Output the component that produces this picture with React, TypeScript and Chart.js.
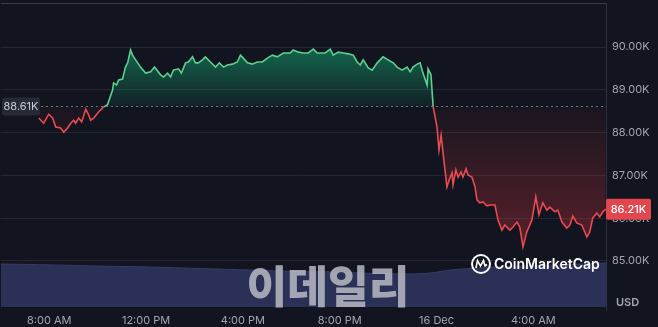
import React, { useEffect, useRef } from "react";
import { Chart, registerables } from "chart.js";

Chart.register(...registerables);

// Price series (hours since midnight of 15 Dec; 24+ = 16 Dec)
const priceHours = [
  7.57, 7.77, 7.98, 8.14, 8.27, 8.47, 8.6, 8.76, 8.89, 9.01, 9.09, 9.22, 9.34, 9.51, 9.63, 9.71, 9.84, 10.04, 10.25, 10.41,
  10.45, 10.62, 10.66, 10.78, 10.87, 11.03, 11.15, 11.24, 11.36, 11.44, 11.57, 11.77, 11.98, 12.19, 12.35, 12.6, 12.72, 12.89, 13.01, 13.13,
  13.34, 13.46, 13.63, 13.75, 13.92, 14.04, 14.16, 14.33, 14.45, 14.66, 14.87, 15.03, 15.2, 15.36, 15.57, 15.77, 15.9, 16.02, 16.19, 16.39,
  16.6, 16.8, 17.01, 17.22, 17.42, 17.67, 17.96, 18.08, 18.29, 18.49, 18.7, 18.91, 19.07, 19.2, 19.4, 19.61, 19.73, 19.94, 20.14, 20.35,
  20.56, 20.72, 20.85, 20.97, 21.18, 21.34, 21.55, 21.79, 22.0, 22.21, 22.37, 22.58, 22.78, 22.91, 23.03, 23.2, 23.32, 23.44, 23.61, 23.65,
  23.77, 23.86, 24.02, 24.1, 24.19, 24.27, 24.43, 24.52, 24.64, 24.68, 24.8, 24.89, 25.01, 25.09, 25.22, 25.3, 25.46, 25.59, 25.67, 25.79,
  25.92, 26.08, 26.21, 26.41, 26.54, 26.7, 26.82, 27.03, 27.15, 27.32, 27.44, 27.57, 27.73, 27.94, 28.1, 28.23, 28.39, 28.56, 28.68, 28.89,
  29.01, 29.18, 29.38, 29.51, 29.63, 29.79, 30.0, 30.21, 30.33, 30.45, 30.62, 30.74, 30.87, 30.99,
];
const priceValues = [
  88340, 88220, 88430, 88340, 88130, 88110, 88010, 88110, 88220, 88290, 88220, 88340, 88250, 88550, 88410, 88290, 88340, 88480, 88600, 88650,
  88720, 89000, 89160, 89110, 89230, 89250, 89530, 89630, 89930, 89810, 89700, 89530, 89390, 89420, 89530, 89350, 89300, 89390, 89300, 89460,
  89490, 89390, 89630, 89650, 89770, 89630, 89630, 89700, 89770, 89650, 89530, 89630, 89530, 89580, 89600, 89650, 89810, 89740, 89630, 89600,
  89650, 89650, 89740, 89810, 89770, 89860, 89860, 89930, 89880, 89860, 89860, 89950, 89860, 89860, 89860, 89950, 89810, 89880, 89860, 89840,
  89810, 89650, 89580, 89700, 89510, 89460, 89630, 89770, 89700, 89630, 89530, 89460, 89530, 89420, 89530, 89600, 89630, 89390, 89110, 89490,
  89350, 88600, 88130, 87590, 87940, 87520, 86730, 86890, 87060, 86780, 87130, 86960, 87080, 86960, 87150, 87010, 86960, 86730, 86430, 86360,
  86380, 86290, 86310, 86310, 85960, 85720, 85840, 85720, 85790, 85910, 85790, 85330, 85680, 85960, 86500, 86080, 86360, 86190, 86260, 86150,
  86190, 85910, 85770, 85840, 86050, 85890, 85840, 85560, 85680, 86000, 86120, 86030, 86150, 86210,
];

// Volume (relative units)
const volumeHours = [6.0, 8.06, 10.12, 12.19, 14.25, 16.31, 18.37, 19.61, 21.26, 22.91, 23.73, 24.56, 25.79, 27.44, 29.09, 31.0];
const volumeValues = [14.2, 13.9, 13.5, 13.2, 12.7, 12.2, 11.7, 11.6, 11.1, 10.9, 11.2, 12.2, 12.9, 13.5, 13.9, 14.5];

const xTickHours = [8, 12, 16, 20, 24, 28];
const xTickLabels = ["8:00 AM", "12:00 PM", "4:00 PM", "8:00 PM", "16 Dec", "4:00 AM"];
const yTickValues = [85000, 86000, 87000, 88000, 89000, 90000];

const BASELINE = 88610;
const BASELINE_LABEL = "88.61K";
const LAST_LABEL = "86.21K";
const WATERMARK = "이데일리";
const BRAND = "CoinMarketCap";
const CURRENCY = "USD";

const BG = "#12151f";
const GREEN = "#5cd08f";
const RED = "#ea4a51";
const TICK = "#a0a5b1";
const FONT = 'Inter, "Noto Sans", Roboto, sans-serif';

function roundRect(ctx: CanvasRenderingContext2D, x: number, y: number, w: number, h: number, r: number) {
  ctx.beginPath();
  ctx.moveTo(x + r, y);
  ctx.lineTo(x + w - r, y);
  ctx.quadraticCurveTo(x + w, y, x + w, y + r);
  ctx.lineTo(x + w, y + h - r);
  ctx.quadraticCurveTo(x + w, y + h, x + w - r, y + h);
  ctx.lineTo(x + r, y + h);
  ctx.quadraticCurveTo(x, y + h, x, y + h - r);
  ctx.lineTo(x, y + r);
  ctx.quadraticCurveTo(x, y, x + r, y);
  ctx.closePath();
}

const overlayPlugin = {
  id: "overlay",
  afterDatasetsDraw(chart: any) {
    const ctx: CanvasRenderingContext2D = chart.ctx;
    ctx.save();
    ctx.font = `900 44px "Noto Sans CJK KR", sans-serif`;
    const w = ctx.measureText(WATERMARK).width;
    ctx.fillStyle = "rgba(190,192,200,0.82)";
    ctx.textAlign = "center";
    ctx.textBaseline = "alphabetic";
    ctx.translate(328, 303);
    ctx.scale(163 / w, 1);
    ctx.fillText(WATERMARK, 0, 0);
    ctx.restore();
  },
  afterDraw(chart: any) {
    const ctx: CanvasRenderingContext2D = chart.ctx;
    const a = chart.chartArea;
    const y = chart.scales.y;
    ctx.save();
    ctx.strokeStyle = "#393d4b";
    ctx.lineWidth = 1;
    ctx.beginPath();
    ctx.moveTo(a.left, 3.5);
    ctx.lineTo(a.right, 3.5);
    ctx.stroke();
    ctx.strokeStyle = "#2d3140";
    ctx.beginPath();
    ctx.moveTo(a.right + 0.5, 3.5);
    ctx.lineTo(a.right + 0.5, 311);
    ctx.stroke();

    const by = Math.round(y.getPixelForValue(BASELINE)) + 0.5;
    ctx.strokeStyle = "#6d7282";
    ctx.setLineDash([2, 3]);
    ctx.beginPath();
    ctx.moveTo(41, by);
    ctx.lineTo(a.right, by);
    ctx.stroke();
    ctx.setLineDash([]);

    roundRect(ctx, 2, by - 9, 38, 18, 3);
    ctx.fillStyle = "#262a36";
    ctx.fill();
    ctx.fillStyle = "#c8ccd5";
    ctx.font = `11px ${FONT}`;
    ctx.textAlign = "center";
    ctx.textBaseline = "middle";
    ctx.fillText(BASELINE_LABEL, 21, by + 0.5);

    const ly = y.getPixelForValue(priceValues[priceValues.length - 1]);
    roundRect(ctx, a.right, ly - 10.5, 45, 21, 2);
    ctx.fillStyle = "#e2474d";
    ctx.fill();
    ctx.fillStyle = "#ffffff";
    ctx.font = `500 11px ${FONT}`;
    ctx.fillText(LAST_LABEL, a.right + 22.5, ly + 0.5);

    ctx.fillStyle = TICK;
    ctx.font = `600 11px ${FONT}`;
    ctx.textAlign = "left";
    ctx.fillText(CURRENCY, 616, 303);

    ctx.strokeStyle = "#ffffff";
    ctx.lineWidth = 2;
    ctx.beginPath();
    ctx.arc(481, 264, 9, 0, Math.PI * 2);
    ctx.stroke();
    ctx.lineWidth = 1.6;
    ctx.beginPath();
    ctx.moveTo(476, 268);
    ctx.lineTo(477.5, 260.5);
    ctx.lineTo(480.5, 266);
    ctx.lineTo(483.5, 260.5);
    ctx.lineTo(485, 266);
    ctx.lineTo(487, 264.5);
    ctx.stroke();
    ctx.fillStyle = "#ffffff";
    ctx.font = `600 14px ${FONT}`;
    ctx.textBaseline = "middle";
    ctx.fillText(BRAND, 494, 264.5);
    ctx.restore();
  },
};

export default function App() {
  const ref = useRef<HTMLCanvasElement>(null);
  useEffect(() => {
    document.body.style.margin = "0";
    document.body.style.background = BG;
    const canvas = ref.current!;
    const ctx = canvas.getContext("2d")!;
    const priceData = priceHours.map((h, i) => ({ x: h, y: priceValues[i] }));
    const volData = volumeHours.map((h, i) => ({ x: h, y: volumeValues[i] }));
    const chart = new Chart(ctx, {
      type: "line",
      data: {
        datasets: [
          {
            data: priceData,
            yAxisID: "y",
            borderWidth: 1.6,
            pointRadius: 0,
            tension: 0,
            borderColor: GREEN,
            segment: {
              borderColor: (c: any) => ((c.p0.parsed.y + c.p1.parsed.y) / 2 >= BASELINE ? GREEN : RED),
            },
            fill: { target: { value: BASELINE }, above: "rgba(22,199,132,0.2)", below: "rgba(234,57,67,0.15)" },
            order: 0,
          } as any,
          {
            data: volData,
            yAxisID: "y2",
            borderWidth: 1,
            borderColor: "#363b68",
            backgroundColor: "#2b3057",
            pointRadius: 0,
            tension: 0.3,
            fill: "origin",
            order: 1,
          } as any,
        ],
      },
      options: {
        animation: false,
        responsive: false,
        maintainAspectRatio: false,
        layout: { padding: { top: 4, left: 0, right: 0, bottom: 0 } },
        plugins: { legend: { display: false }, tooltip: { enabled: false } },
        font: { family: FONT },
        scales: {
          x: {
            type: "linear",
            min: 6,
            max: 31,
            grid: { display: false, drawTicks: false },
            border: { display: false },
            afterBuildTicks: (s: any) => {
              s.ticks = xTickHours.map((v) => ({ value: v }));
            },
            afterFit: (s: any) => {
              s.height = 20;
            },
            ticks: {
              autoSkip: false,
              maxRotation: 0,
              padding: 7,
              color: TICK,
              font: { size: 11, family: FONT },
              callback: (v: any) => {
                const i = xTickHours.indexOf(Number(v));
                return i >= 0 ? xTickLabels[i] : "";
              },
            },
          },
          y: {
            position: "right",
            min: 83925,
            max: 91005,
            grid: { color: "#232734", drawTicks: false },
            border: { display: false },
            afterBuildTicks: (s: any) => {
              s.ticks = yTickValues.map((v) => ({ value: v }));
            },
            afterFit: (s: any) => {
              s.width = 52;
            },
            ticks: {
              padding: 6,
              color: TICK,
              font: { size: 11, family: FONT },
              callback: (v: any) => (Number(v) / 1000).toFixed(2) + "K",
            },
          },
          y2: {
            display: false,
            min: 0,
            max: 100,
          },
        },
      } as any,
      plugins: [overlayPlugin],
    });

    // Calibrate the price axis so the ticks land where they sit in the reference
    const area = chart.chartArea;
    const pxPerUnit = 214 / 5000;
    const opts: any = chart.options.scales;
    opts.y.min = 85000 - (area.bottom - 261) / pxPerUnit;
    opts.y.max = 90000 + (47 - area.top) / pxPerUnit;
    opts.y2.max = (100 * (area.bottom - area.top)) / 303;
    chart.update();

    const y = chart.scales.y;
    const top = y.getPixelForValue(89950);
    const base = y.getPixelForValue(BASELINE);
    const bot = y.getPixelForValue(85330);
    const g = ctx.createLinearGradient(0, top, 0, base);
    g.addColorStop(0, "rgba(22,199,132,0.45)");
    g.addColorStop(1, "rgba(22,199,132,0.07)");
    const r = ctx.createLinearGradient(0, base, 0, bot);
    r.addColorStop(0, "rgba(234,57,67,0.03)");
    r.addColorStop(1, "rgba(234,57,67,0.33)");
    (chart.data.datasets[0] as any).fill = { target: { value: BASELINE }, above: g, below: r };
    chart.update();

    return () => chart.destroy();
  }, []);

  return (
    <div style={{ width: 658, height: 327, background: BG }}>
      <canvas ref={ref} width={658} height={327} style={{ display: "block" }} />
    </div>
  );
}
